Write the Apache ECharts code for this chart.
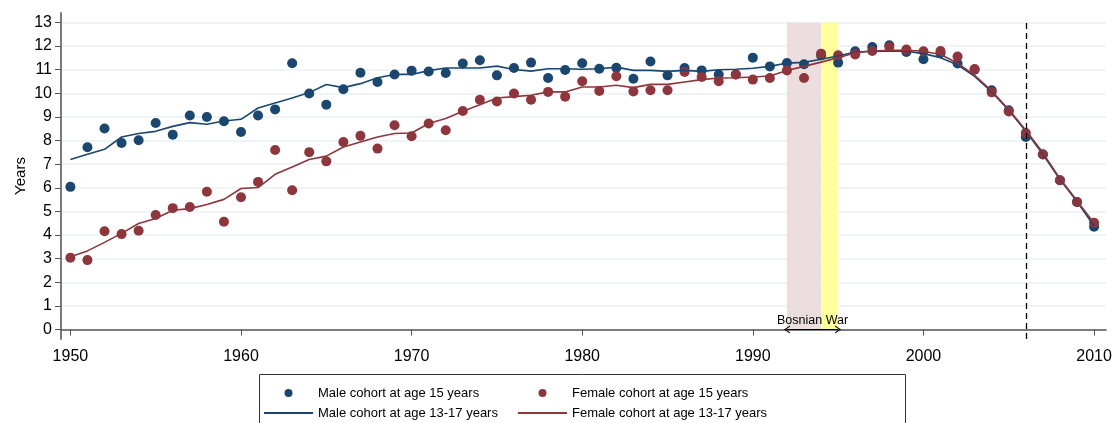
<!DOCTYPE html>
<html>
<head>
<meta charset="utf-8">
<script src="https://cdn.jsdelivr.net/npm/echarts@6/dist/echarts.min.js"></script>
<style>
  html, body { margin: 0; padding: 0; background: #fff; }
  #chart { width: 1112px; height: 423px; }
</style>
</head>
<body>
<div id="chart"></div>
<script>
// cohort years
const years = [];
for (let y = 1950; y <= 2010; y++) years.push(y);

// male cohort at age 15 (dots)
const maleAt15 = [
  6.04, 7.72, 8.51, 7.90, 8.01, 8.74, 8.25, 9.06, 9.00, 8.82,
  8.36, 9.06, 9.32, 11.27, 9.99, 9.52, 10.17, 10.87, 10.48, 10.80,
  10.96, 10.92, 10.86, 11.26, 11.40, 10.76, 11.07, 11.30, 10.65, 10.99,
  11.27, 11.04, 11.08, 10.62, 11.35, 10.76, 11.07, 10.97, 10.80, 10.80,
  11.51, 11.14, 11.28, 11.23, 11.60, 11.30, 11.78, 11.96, 12.03, 11.75,
  11.44, 11.70, 11.26, 11.00, 10.13, 9.28, 8.15, 7.41, 6.32, 5.40,
  4.35
];
// female cohort at age 15 (dots)
const femaleAt15 = [
  3.04, 2.94, 4.16, 4.04, 4.18, 4.85, 5.14, 5.19, 5.83, 4.56,
  5.60, 6.25, 7.60, 5.90, 7.51, 7.12, 7.94, 8.20, 7.66, 8.65,
  8.18, 8.72, 8.44, 9.25, 9.73, 9.65, 9.99, 9.73, 10.06, 9.86,
  10.51, 10.10, 10.72, 10.08, 10.13, 10.13, 10.90, 10.69, 10.51, 10.80,
  10.58, 10.65, 10.97, 10.65, 11.68, 11.61, 11.64, 11.79, 11.96, 11.85,
  11.78, 11.79, 11.56, 11.03, 10.04, 9.23, 8.32, 7.42, 6.32, 5.40,
  4.52
];
// male cohort at age 13-17 (line)
const male13to17 = [
  7.20, 7.42, 7.63, 8.15, 8.30, 8.39, 8.60, 8.76, 8.69, 8.83,
  8.90, 9.38, 9.59, 9.80, 10.03, 10.37, 10.24, 10.41, 10.66, 10.80,
  10.80, 10.96, 11.07, 11.07, 11.07, 11.15, 11.01, 10.94, 11.04, 11.04,
  11.02, 11.04, 11.11, 10.97, 10.97, 10.93, 10.97, 10.93, 11.00, 11.02,
  11.06, 11.14, 11.28, 11.31, 11.44, 11.58, 11.75, 11.78, 11.79, 11.78,
  11.68, 11.51, 11.21, 10.72, 10.06, 9.28, 8.39, 7.42, 6.35, 5.42,
  4.38
];
// female cohort at age 13-17 (line)
const female13to17 = [
  3.08, 3.33, 3.69, 4.07, 4.49, 4.70, 5.05, 5.12, 5.29, 5.51,
  5.97, 6.01, 6.57, 6.88, 7.20, 7.34, 7.73, 7.94, 8.15, 8.30,
  8.32, 8.72, 8.93, 9.24, 9.52, 9.80, 9.86, 9.92, 10.06, 10.06,
  10.27, 10.27, 10.34, 10.24, 10.38, 10.38, 10.48, 10.58, 10.65, 10.66,
  10.69, 10.73, 10.97, 11.14, 11.32, 11.51, 11.72, 11.79, 11.82, 11.82,
  11.78, 11.64, 11.28, 10.76, 10.10, 9.31, 8.44, 7.48, 6.39, 5.45,
  4.50
];

const xTicks = [1950, 1960, 1970, 1980, 1990, 2000, 2010];
const yTicks = [0, 1, 2, 3, 4, 5, 6, 7, 8, 9, 10, 11, 12, 13];

// war period and the dashed reference year
const warStart = 1992, warMid = 1994, warEnd = 1995;
const refYear = 2006;

const pairs = arr => years.map((y, i) => [y, arr[i]]);

const BLUE = '#1a476f';
const RED = '#90353b';
const FONT = "'Liberation Sans', Arial, sans-serif";
// open arrow head, drawn pointing up; markLine turns it outward
const ARROW = 'path://M0,10 L5,0 L10,10 L8.4,10 L5,3.2 L1.6,10 Z';

const chart = echarts.init(document.getElementById('chart'));

const legendText = { fontSize: 13, lineHeight: 14, fontFamily: FONT, color: '#000' };

const option = {
  animation: false,
  textStyle: { fontFamily: FONT, color: '#000' },
  grid: { left: 61, right: 6, top: 13, bottom: 84, outerBoundsMode: 'none' },
  xAxis: {
    type: 'value',
    min: 1949.45,
    max: 2010.7,
    axisLine: { lineStyle: { color: '#555', width: 1.5 } },
    axisTick: { customValues: xTicks, length: 6, lineStyle: { color: '#555' } },
    axisLabel: {
      customValues: xTicks, fontSize: 16, color: '#000', margin: 10, fontFamily: FONT,
      formatter: v => String(v)
    },
    splitLine: { show: false }
  },
  yAxis: {
    type: 'value',
    min: -0.4,
    max: 13.4,
    name: 'Years',
    nameLocation: 'middle',
    nameGap: 33,
    nameMoveOverlap: false,
    nameTextStyle: { fontSize: 15, color: '#000', fontFamily: FONT },
    axisLine: { show: true, lineStyle: { color: '#7a7a7a', width: 2 } },
    axisTick: { show: true, customValues: yTicks, length: 6, lineStyle: { color: '#555' } },
    axisLabel: { customValues: yTicks, fontSize: 16, color: '#000', margin: 9, fontFamily: FONT },
    splitLine: { show: true, lineStyle: { color: '#eaf2f3', width: 1.5 } }
  },
  legend: [
    {
      left: 263, top: 386, orient: 'vertical', padding: 0,
      itemWidth: 49, itemHeight: 8, itemGap: 6,
      textStyle: legendText,
      data: [
        { name: 'Male cohort at age 15 years' },
        { name: 'Male cohort at age 13-17 years', itemStyle: { opacity: 0 } }
      ]
    },
    {
      left: 517, top: 386, orient: 'vertical', padding: 0,
      itemWidth: 49, itemHeight: 8, itemGap: 6,
      textStyle: legendText,
      data: [
        { name: 'Female cohort at age 15 years' },
        { name: 'Female cohort at age 13-17 years', itemStyle: { opacity: 0 } }
      ]
    }
  ],
  graphic: [
    {
      type: 'rect', silent: true,
      shape: { x: 259.5, y: 374.5, width: 646, height: 60 },
      style: { fill: 'none', stroke: '#333', lineWidth: 1 }
    }
  ],
  series: [
    {
      // shaded war years
      type: 'line', data: [], z: 1, silent: true,
      markArea: {
        silent: true,
        label: { show: false },
        data: [
          [{ coord: [warStart, 0], itemStyle: { color: '#ecdede' } }, { coord: [warMid, 13] }],
          [{ coord: [warMid, 0], itemStyle: { color: '#ffff99' } }, { coord: [warEnd, 13] }]
        ]
      }
    },
    {
      // reference line and war arrow
      type: 'line', data: [], z: 5, silent: true,
      markLine: {
        silent: true,
        symbol: 'none',
        data: [
          [
            { coord: [refYear, -0.4], lineStyle: { color: '#000', type: [6, 4], width: 1.3 }, label: { show: false } },
            { coord: [refYear, 13] }
          ],
          [
            {
              coord: [warStart, 0],
              symbol: ARROW,
              symbolSize: [8, 6],
              itemStyle: { color: '#000' },
              lineStyle: { color: '#000', type: 'solid', width: 1.2 },
              label: { show: true, position: 'middle', formatter: 'Bosnian War', fontSize: 12.5, color: '#000', fontFamily: FONT, distance: 3 }
            },
            {
              coord: [warEnd, 0],
              symbol: ARROW,
              symbolSize: [8, 6]
            }
          ]
        ]
      }
    },
    {
      name: 'Male cohort at age 15 years',
      type: 'scatter', z: 3,
      symbol: 'circle', symbolSize: 10,
      itemStyle: { color: BLUE, opacity: 1 },
      data: pairs(maleAt15)
    },
    {
      name: 'Female cohort at age 15 years',
      type: 'scatter', z: 3,
      symbol: 'circle', symbolSize: 10,
      itemStyle: { color: RED, opacity: 1 },
      data: pairs(femaleAt15)
    },
    {
      name: 'Male cohort at age 13-17 years',
      type: 'line', z: 4,
      symbol: 'none', showSymbol: false,
      lineStyle: { color: BLUE, width: 1.6 },
      itemStyle: { color: BLUE },
      data: pairs(male13to17)
    },
    {
      name: 'Female cohort at age 13-17 years',
      type: 'line', z: 4,
      symbol: 'none', showSymbol: false,
      lineStyle: { color: RED, width: 1.6 },
      itemStyle: { color: RED },
      data: pairs(female13to17)
    }
  ]
};

chart.setOption(option);
</script>
</body>
</html>
